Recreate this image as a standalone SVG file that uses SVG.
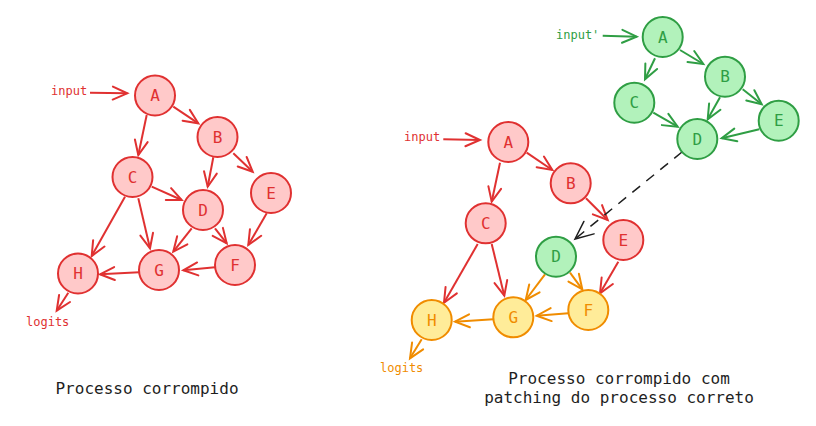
<svg xmlns="http://www.w3.org/2000/svg" width="816" height="426" viewBox="0 0 816 426">
<style>
text{font-family:"DejaVu Sans Mono","Liberation Mono",monospace}
.r circle{fill:#ffc9c9;stroke:#e03131;stroke-width:2}
.g circle{fill:#b2f2bb;stroke:#2f9e44;stroke-width:2}
.y circle{fill:#ffec99;stroke:#f08c00;stroke-width:2}
.r text{fill:#e03131}
.g text{fill:#2f9e44}
.y text{fill:#f08c00}
.n text{font-size:16px;text-anchor:middle;dominant-baseline:central}
.lr{fill:#e03131;font-size:12px}
.lg{fill:#2f9e44;font-size:12px}
.ly{fill:#f08c00;font-size:12px}
.t{fill:#1e1e1e;font-size:16px;text-anchor:middle}
.er{stroke:#e03131;stroke-width:2;fill:none;marker-end:url(#mr)}
.eg{stroke:#2f9e44;stroke-width:2;fill:none;marker-end:url(#mg)}
.ey{stroke:#f08c00;stroke-width:2;fill:none;marker-end:url(#my)}
.ek{stroke:#1e1e1e;stroke-width:1.5;fill:none;stroke-dasharray:10 8;marker-end:url(#mk)}
</style>
<defs>
<marker id="mr" markerUnits="userSpaceOnUse" markerWidth="30" markerHeight="30" refX="0" refY="0" viewBox="-15 -15 30 30" orient="auto" overflow="visible"><path d="M-14.5 -6.5 L0 0 L-14.5 6.5" fill="none" stroke="#e03131" stroke-width="2" stroke-linecap="round"/></marker>
<marker id="mg" markerUnits="userSpaceOnUse" markerWidth="30" markerHeight="30" refX="0" refY="0" viewBox="-15 -15 30 30" orient="auto" overflow="visible"><path d="M-14.5 -6.5 L0 0 L-14.5 6.5" fill="none" stroke="#2f9e44" stroke-width="2" stroke-linecap="round"/></marker>
<marker id="my" markerUnits="userSpaceOnUse" markerWidth="30" markerHeight="30" refX="0" refY="0" viewBox="-15 -15 30 30" orient="auto" overflow="visible"><path d="M-14.5 -6.5 L0 0 L-14.5 6.5" fill="none" stroke="#f08c00" stroke-width="2" stroke-linecap="round"/></marker>
<marker id="mk" markerUnits="userSpaceOnUse" markerWidth="40" markerHeight="40" refX="0" refY="0" viewBox="-20 -20 40 40" orient="auto" overflow="visible"><path d="M-18 -8 L0 0 L-18 8" fill="none" stroke="#1e1e1e" stroke-width="1.5" stroke-linecap="round"/></marker>
</defs>

<g id="connectors">
<!-- left -->
<line class="er" x1="90" y1="92.7" x2="127.3" y2="93.3"/>
<line class="er" x1="173.3" y1="106.7" x2="198.3" y2="123.3"/>
<line class="er" x1="146.7" y1="115" x2="138.3" y2="155"/>
<line class="er" x1="213.3" y1="157.3" x2="207.7" y2="186.7"/>
<line class="er" x1="233.3" y1="153.3" x2="252.7" y2="171.7"/>
<line class="er" x1="151.7" y1="186.7" x2="181.7" y2="200"/>
<line class="er" x1="138.3" y1="198.3" x2="150" y2="248.3"/>
<line class="er" x1="125" y1="196.7" x2="91.7" y2="256"/>
<line class="er" x1="191.7" y1="228.3" x2="173.3" y2="251.7"/>
<line class="er" x1="215" y1="228.3" x2="226.7" y2="243.3"/>
<line class="er" x1="266.7" y1="213.3" x2="248.3" y2="245"/>
<line class="er" x1="215" y1="267.3" x2="183.3" y2="270.3"/>
<line class="er" x1="139.3" y1="272.3" x2="100" y2="274.3"/>
<line class="er" x1="68.3" y1="292.7" x2="56.7" y2="310.7"/>
<!-- right -->
<line class="er" x1="443.3" y1="139.3" x2="480" y2="140"/>
<line class="er" x1="526.7" y1="152.7" x2="552.3" y2="170"/>
<line class="er" x1="500" y1="162.7" x2="491.7" y2="201.7"/>
<line class="er" x1="586" y1="198.3" x2="607.7" y2="220"/>
<line class="er" x1="477.7" y1="244" x2="444" y2="302.7"/>
<line class="er" x1="491.7" y1="244" x2="504.3" y2="295.7"/>
<line class="er" x1="618.3" y1="261.7" x2="600" y2="293.3"/>
<line class="ey" x1="545" y1="274.3" x2="525.7" y2="300"/>
<line class="ey" x1="570" y1="272.7" x2="582.3" y2="289.3"/>
<line class="ey" x1="568.3" y1="313.3" x2="536.7" y2="315.7"/>
<line class="ey" x1="493.3" y1="319.3" x2="455" y2="321.7"/>
<line class="ey" x1="421.7" y1="339.3" x2="410" y2="358.3"/>
<!-- green -->
<line class="eg" x1="602.7" y1="35.7" x2="636.7" y2="36.7"/>
<line class="eg" x1="680" y1="50" x2="703.3" y2="64"/>
<line class="eg" x1="655" y1="58.3" x2="645" y2="79.3"/>
<line class="eg" x1="720" y1="97.3" x2="707.7" y2="119.3"/>
<line class="eg" x1="742.7" y1="89.3" x2="761.7" y2="104.3"/>
<line class="eg" x1="653.3" y1="112.7" x2="677.7" y2="126.7"/>
<line class="eg" x1="759.3" y1="129.3" x2="721.7" y2="138.3"/>
<!-- patch -->
<line class="ek" x1="682" y1="152" x2="575" y2="239"/>
</g>

<g id="left-A" class="n r"><circle cx="155" cy="95.5" r="20"/><text x="155" y="95.5">A</text></g>
<g id="left-B" class="n r"><circle cx="217.5" cy="137" r="20"/><text x="217.5" y="137">B</text></g>
<g id="left-C" class="n r"><circle cx="132.5" cy="177" r="20"/><text x="132.5" y="177">C</text></g>
<g id="left-D" class="n r"><circle cx="203" cy="210" r="20"/><text x="203" y="210">D</text></g>
<g id="left-E" class="n r"><circle cx="271" cy="193" r="20"/><text x="271" y="193">E</text></g>
<g id="left-F" class="n r"><circle cx="235" cy="265" r="20"/><text x="235" y="265">F</text></g>
<g id="left-G" class="n r"><circle cx="159" cy="270" r="20"/><text x="159" y="270">G</text></g>
<g id="left-H" class="n r"><circle cx="78" cy="273.5" r="20"/><text x="78" y="273.5">H</text></g>

<g id="right-A" class="n r"><circle cx="508.3" cy="142" r="20"/><text x="508.3" y="142">A</text></g>
<g id="right-B" class="n r"><circle cx="570.7" cy="183.3" r="20"/><text x="570.7" y="183.3">B</text></g>
<g id="right-C" class="n r"><circle cx="485.7" cy="223.3" r="20"/><text x="485.7" y="223.3">C</text></g>
<g id="right-D" class="n g"><circle cx="556" cy="256.7" r="20"/><text x="556" y="256.7">D</text></g>
<g id="right-E" class="n r"><circle cx="623.3" cy="240" r="20"/><text x="623.3" y="240">E</text></g>
<g id="right-F" class="n y"><circle cx="588.3" cy="310" r="20"/><text x="588.3" y="310">F</text></g>
<g id="right-G" class="n y"><circle cx="513.3" cy="317.3" r="20"/><text x="513.3" y="317.3">G</text></g>
<g id="right-H" class="n y"><circle cx="431.7" cy="320" r="20"/><text x="431.7" y="320">H</text></g>

<g id="green-A" class="n g"><circle cx="662.7" cy="37" r="20"/><text x="662.7" y="37">A</text></g>
<g id="green-B" class="n g"><circle cx="725" cy="76.7" r="20"/><text x="725" y="76.7">B</text></g>
<g id="green-C" class="n g"><circle cx="634.3" cy="102.7" r="20"/><text x="634.3" y="102.7">C</text></g>
<g id="green-D" class="n g"><circle cx="697.3" cy="139" r="20"/><text x="697.3" y="139">D</text></g>
<g id="green-E" class="n g"><circle cx="778.7" cy="120.7" r="20"/><text x="778.7" y="120.7">E</text></g>

<g id="labels">
<text class="lr" x="51" y="95">input</text>
<text class="lr" x="26" y="326">logits</text>
<text class="lr" x="404" y="141">input</text>
<text class="ly" x="380" y="372">logits</text>
<text class="lg" x="556" y="39">input'</text>
<text class="t" x="147" y="394">Processo corrompido</text>
<text class="t" x="619" y="384">Processo corrompido com</text>
<text class="t" x="619" y="403">patching do processo correto</text>
</g>
</svg>
